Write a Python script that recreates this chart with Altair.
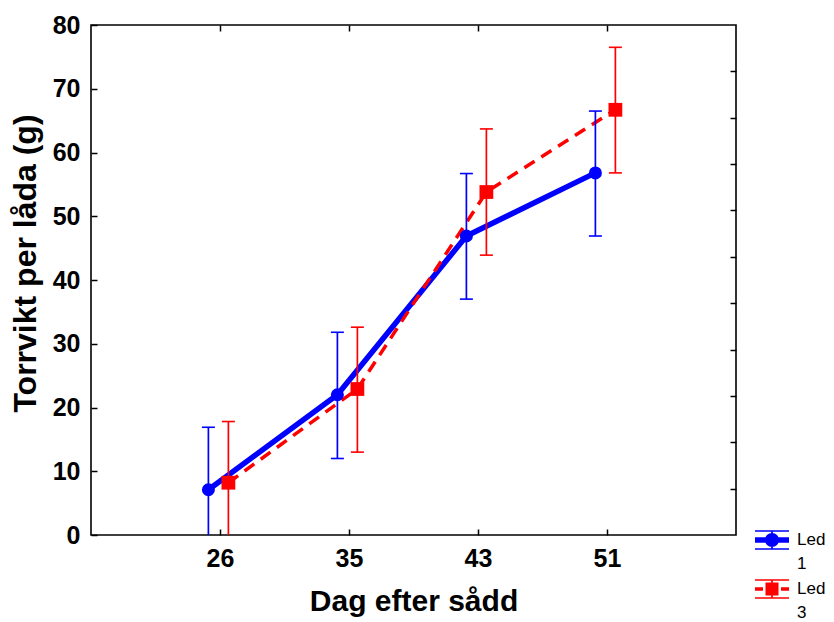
import altair as alt
import pandas as pd

# ---------------- data ----------------
days = ["26", "35", "43", "51"]
led1_mean = [7.1, 22.0, 46.9, 56.8]
led1_lo = [-2.7, 12.0, 37.0, 46.9]
led1_hi = [16.9, 31.8, 56.7, 66.5]
led3_mean = [8.2, 22.9, 53.8, 66.7]
led3_lo = [-1.6, 13.0, 43.9, 56.8]
led3_hi = [17.8, 32.6, 63.7, 76.5]
series = ["Led 1", "Led 3"]
y_ticks = [0, 10, 20, 30, 40, 50, 60, 70, 80]
right_ticks = [80 / 11 * k for k in range(1, 11)]

# ---------------- style ----------------
W, H = 645, 510
BLUE, RED = "#0000ff", "#ff0000"
REG = "Liberation Sans, Arial"
OFF1, OFF3 = -0.09, 0.065

df1 = pd.DataFrame({"idx": [1, 2, 3, 4], "day": days, "mean": led1_mean,
                    "lo": led1_lo, "hi": led1_hi})
df3 = pd.DataFrame({"idx": [1, 2, 3, 4], "day": days, "mean": led3_mean,
                    "lo": led3_lo, "hi": led3_hi})

xscale = alt.Scale(domain=[0, 5], nice=False, zero=False)
yscale = alt.Scale(domain=[0, 80], nice=False, zero=False)

label_expr = "[''," + ",".join(f"'{d}'" for d in days) + "][datum.value]"
tick_style = dict(labels=False, tickSize=6, tickWidth=1.5, tickColor="black",
                  domain=False, grid=False, title=None)

ax_bottom = alt.Axis(orient="bottom", values=[1, 2, 3, 4], labelExpr=label_expr,
                     tickSize=0, domain=False, grid=False, labelFont=REG,
                     labelFontSize=25, labelFontWeight="bold", labelColor="black",
                     labelPadding=11, title="Dag efter sådd", titleFont=REG,
                     titleFontSize=30, titleFontWeight="bold", titleColor="black",
                     titlePadding=15)
ax_bottom_ticks = alt.Axis(orient="top", offset=-H, values=[1, 2, 3, 4], **tick_style)
ax_top_ticks = alt.Axis(orient="bottom", offset=-H, values=[1, 2, 3, 4], **tick_style)
ay_left = alt.Axis(orient="left", values=y_ticks, tickSize=0, domain=False, grid=False,
                   labelFont=REG, labelFontSize=25, labelFontWeight="bold",
                   labelColor="black", labelPadding=11,
                   title="Torrvikt per låda (g)", titleFont=REG, titleFontSize=32,
                   titleFontWeight="bold", titleColor="black", titlePadding=10,
                   titleY=238)
ay_left_ticks = alt.Axis(orient="right", offset=-W, values=y_ticks, **tick_style)
ay_right_ticks = alt.Axis(orient="left", offset=-W, values=right_ticks, **tick_style)


def X(off, axis=None):
    return alt.X("xpos:Q", scale=xscale, axis=axis)


def base(df, off):
    return alt.Chart(df).transform_calculate(xpos=f"datum.idx + ({off})")


blue_line = base(df1, OFF1).mark_line(color=BLUE, strokeWidth=5.5).encode(
    x=X(OFF1, ax_bottom), y=alt.Y("mean:Q", scale=yscale, axis=ay_left))
red_line = base(df3, OFF3).mark_line(color=RED, strokeWidth=3.5, strokeDash=[12, 8]).encode(
    x=X(OFF3, ax_bottom_ticks), y=alt.Y("mean:Q", scale=yscale, axis=ay_left_ticks))

blue_err = base(df1, OFF1).mark_rule(color=BLUE, strokeWidth=1.7, clip=True).encode(
    x=X(OFF1, ax_top_ticks), y=alt.Y("lo:Q", scale=yscale, axis=ay_right_ticks), y2="hi:Q")
red_err = base(df3, OFF3).mark_rule(color=RED, strokeWidth=1.7, clip=True).encode(
    x=X(OFF3), y=alt.Y("lo:Q", scale=yscale, axis=None), y2="hi:Q")


def caps(df, off, color):
    return base(df, off).transform_fold(["lo", "hi"], as_=["end", "val"]).mark_tick(
        orient="horizontal", size=13, thickness=1.6, color=color, opacity=1, clip=True
    ).encode(x=X(off), y=alt.Y("val:Q", scale=yscale, axis=None))


blue_pts = base(df1, OFF1).mark_point(shape="circle", filled=True, size=170,
                                      color=BLUE, opacity=1).encode(
    x=X(OFF1), y=alt.Y("mean:Q", scale=yscale, axis=None))
red_pts = base(df3, OFF3).mark_point(shape="square", filled=True, size=190,
                                     color=RED, opacity=1).encode(
    x=X(OFF3), y=alt.Y("mean:Q", scale=yscale, axis=None))

# ---------------- legend symbols (unit = 17 px) ----------------
U = 17.0
DY = 0.0


def rect(x0, y0, x1, y1):
    return (f"M{x0/U:.4f},{(y0+DY)/U:.4f}L{x1/U:.4f},{(y0+DY)/U:.4f}"
            f"L{x1/U:.4f},{(y1+DY)/U:.4f}L{x0/U:.4f},{(y1+DY)/U:.4f}Z")


def circle(r):
    return (f"M{-r/U:.4f},{DY/U:.4f}A{r/U:.4f},{r/U:.4f} 0 1 1 {r/U:.4f},{DY/U:.4f}"
            f"A{r/U:.4f},{r/U:.4f} 0 1 1 {-r/U:.4f},{DY/U:.4f}Z")


frame = rect(-17, -9.8, 17, -8.2) + rect(-17, 8.2, 17, 9.8) + rect(-0.85, -9, 0.85, 9)
sym1 = frame + rect(-17, -2.8, 17, 2.8) + circle(7)
sym3 = frame + rect(-17, -1.8, -9, 1.8) + rect(9, -1.8, 17, 1.8) + rect(-6.5, -6.5, 6.5, 6.5)

leg = alt.Legend(title=None, orient="none", legendX=664, legendY=498, symbolSize=1156,
                 labelFont=REG, labelFontSize=17, labelColor="black", labelOffset=8,
                 labelBaseline="middle", labelExpr="split(datum.label, ' ')",
                 rowPadding=0, symbolStrokeWidth=0, symbolOpacity=1, padding=0)
legend_layer = alt.Chart(pd.DataFrame({"series": series})).transform_filter("false").mark_point(
    filled=True, opacity=1).encode(
    color=alt.Color("series:N", scale=alt.Scale(domain=series, range=[BLUE, RED]), legend=leg),
    shape=alt.Shape("series:N", scale=alt.Scale(domain=series, range=[sym1, sym3]), legend=leg))

chart = alt.layer(
    blue_line, red_line, blue_err, red_err,
    caps(df1, OFF1, BLUE), caps(df3, OFF3, RED),
    blue_pts, red_pts, legend_layer
).resolve_axis(x="independent", y="independent").properties(
    width=W, height=H,
    autosize=alt.AutoSizeParams(type="none"),
    padding={"left": 83, "top": 17, "right": 90, "bottom": 92},
    background="white",
).configure(style={"guide-label": {"lineHeight": 24}}).configure_view(
    stroke="black", strokeWidth=1.6)

chart.save("out.html", embed_options={"renderer": "svg", "actions": False})
